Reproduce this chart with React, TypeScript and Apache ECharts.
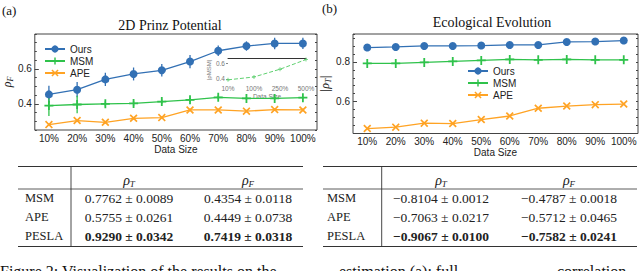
import React, { useEffect, useRef } from "react";
import * as echarts from "echarts";

// ---------- data ----------
const CATEGORIES = ["10%", "20%", "30%", "40%", "50%", "60%", "70%", "80%", "90%", "100%"];

const PRINZ_OURS = [0.454, 0.481, 0.54, 0.571, 0.592, 0.642, 0.704, 0.731, 0.746, 0.746];
const PRINZ_OURS_ERR = [0.05, 0.044, 0.038, 0.037, 0.036, 0.038, 0.03, 0.027, 0.033, 0.032];
const PRINZ_MSM = [0.39, 0.396, 0.4, 0.402, 0.413, 0.423, 0.437, 0.431, 0.431, 0.435];
const PRINZ_MSM_ERR = [0.06, 0.05, 0.015, 0.015, 0.012, 0.012, 0.01, 0.008, 0.008, 0.006];
const PRINZ_APE = [0.281, 0.304, 0.294, 0.317, 0.321, 0.365, 0.365, 0.358, 0.367, 0.365];
const PRINZ_APE_ERR = [0.008, 0.008, 0.008, 0.008, 0.008, 0.008, 0.008, 0.008, 0.008, 0.008];

const ECO_OURS = [0.872, 0.875, 0.88, 0.88, 0.882, 0.885, 0.885, 0.9, 0.902, 0.907];
const ECO_MSM = [0.792, 0.792, 0.797, 0.802, 0.807, 0.812, 0.81, 0.812, 0.81, 0.81];
const ECO_APE = [0.465, 0.472, 0.492, 0.49, 0.51, 0.528, 0.567, 0.578, 0.585, 0.588];

const INSET_CATEGORIES = ["10%", "100%", "250%", "500%"];
const INSET_MSM = [0.388, 0.425, 0.525, 0.65];

const PRINZ_Y_TICKS = [0.4, 0.6];
const ECO_Y_TICKS = [0.6, 0.8];
const INSET_Y_TICKS = [0.4, 0.6];

const TABLE_ROWS = ["MSM", "APE", "PESLA"];
const PRINZ_T = ["0.7762 ± 0.0089", "0.5755 ± 0.0261", "0.9290 ± 0.0342"];
const PRINZ_F = ["0.4354 ± 0.0118", "0.4449 ± 0.0738", "0.7419 ± 0.0318"];
const ECO_T = ["−0.8104 ± 0.0012", "−0.7063 ± 0.0217", "−0.9067 ± 0.0100"];
const ECO_F = ["−0.4787 ± 0.0018", "−0.5712 ± 0.0465", "−0.7582 ± 0.0241"];

// ---------- styles ----------
const BLUE = "#3270b4";
const GREEN = "#2fc24b";
const ORANGE = "#ffa324";
const SANS = "Liberation Sans, Arial, sans-serif";
const SERIF = "Liberation Serif, Times New Roman, serif";
const PLUS = "path://M4,0H6V4H10V6H6V10H4V6H0V4H4Z";
const XMARK = "path://M1.5,0L5,3.5L8.5,0L10,1.5L6.5,5L10,8.5L8.5,10L5,6.5L1.5,10L0,8.5L3.5,5L0,1.5Z";

const errorSeries = (name, values, errs, color, xi, yi) => ({
  type: "custom",
  name,
  xAxisIndex: xi,
  yAxisIndex: yi,
  encode: { x: 0, y: 1 },
  data: values.map((v, i) => [i, v, errs[i]]),
  z: 1,
  renderItem: (params, api) => {
    const x = api.value(0);
    const y = api.value(1);
    const e = api.value(2);
    const p1 = api.coord([x, y - e]);
    const p2 = api.coord([x, y + e]);
    return {
      type: "line",
      shape: { x1: p1[0], y1: p1[1], x2: p2[0], y2: p2[1] },
      style: { stroke: color, lineWidth: 1.3 },
    };
  },
});

const lineSeries = (name, data, color, symbol, size, xi, yi) => ({
  type: "line",
  name,
  data,
  xAxisIndex: xi,
  yAxisIndex: yi,
  symbol,
  symbolSize: size,
  showAllSymbol: true,
  color,
  itemStyle: { color },
  lineStyle: { color, width: 1.3 },
  z: 3,
});

const rich = {
  r: { fontFamily: SERIF, fontStyle: "italic", fontSize: 12, color: "#222" },
  s: { fontFamily: SERIF, fontStyle: "italic", fontSize: 8, color: "#222", padding: [6, 0, 0, 0] },
};

const minorAxis = (gridIndex, min, max, interval, position) => ({
  type: "value",
  gridIndex,
  min,
  max,
  interval,
  position,
  axisLine: { show: false },
  axisLabel: { show: false },
  splitLine: { show: false },
  axisTick: { show: true, inside: true, length: 2, lineStyle: { color: "#444" } },
});

const majorAxis = (gridIndex, min, max, ticks, name, nameGap) => ({
  type: "value",
  gridIndex,
  min,
  max,
  position: "left",
  axisLine: { show: false },
  splitLine: { show: false },
  axisTick: { show: true, inside: true, length: 4, customValues: ticks, lineStyle: { color: "#444" } },
  axisLabel: {
    customValues: ticks,
    formatter: (v) => v.toFixed(1),
    fontFamily: SANS,
    fontSize: 10,
    color: "#222",
    margin: 3,
  },
  name,
  nameLocation: "middle",
  nameGap,
  nameTextStyle: { rich },
});

const catAxis = (gridIndex, name) => ({
  type: "category",
  gridIndex,
  data: CATEGORIES,
  boundaryGap: true,
  axisLine: { show: false },
  axisTick: { show: false },
  axisLabel: { interval: 0, fontFamily: SANS, fontSize: 10, color: "#222", margin: 3 },
  name,
  nameLocation: "middle",
  nameGap: 14,
  nameTextStyle: { fontFamily: SANS, fontSize: 10, color: "#222" },
});

const tableGraphics = (x0, x1, xv, labelX, colT, colF, colTVals, colFVals) => {
  const els: any[] = [];
  const hl = (y, w) => ({ type: "line", shape: { x1: x0, y1: y, x2: x1, y2: y }, style: { stroke: "#333", lineWidth: w } });
  els.push(hl(166.5, 1.2), hl(189, 0.8), hl(246.5, 1.2));
  els.push({ type: "line", shape: { x1: xv, y1: 166.5, x2: xv, y2: 246.5 }, style: { stroke: "#333", lineWidth: 0.9 } });
  const hdrRich = {
    r: { fontFamily: SERIF, fontStyle: "italic", fontSize: 14, fill: "#222" },
    s: { fontFamily: SERIF, fontStyle: "italic", fontSize: 9, fill: "#222", padding: [7, 0, 0, 0] },
  };
  els.push({ type: "text", x: colT, y: 180, style: { text: "{r|ρ}{s|T}", rich: hdrRich, align: "center", verticalAlign: "middle" } });
  els.push({ type: "text", x: colF, y: 180, style: { text: "{r|ρ}{s|F}", rich: hdrRich, align: "center", verticalAlign: "middle" } });
  const ys = [198, 217, 236];
  TABLE_ROWS.forEach((r, i) => {
    const bold = i === TABLE_ROWS.length - 1;
    els.push({ type: "text", x: labelX, y: ys[i], style: { text: r, fontFamily: SERIF, fontSize: 12.5, fill: "#222", align: "left", verticalAlign: "middle" } });
    els.push({ type: "text", x: colT, y: ys[i], style: { text: colTVals[i], fontFamily: SERIF, fontSize: 13.5, fontWeight: bold ? "bold" : "normal", fill: "#222", align: "center", verticalAlign: "middle" } });
    els.push({ type: "text", x: colF, y: ys[i], style: { text: colFVals[i], fontFamily: SERIF, fontSize: 13.5, fontWeight: bold ? "bold" : "normal", fill: "#222", align: "center", verticalAlign: "middle" } });
  });
  return els;
};

export default function App() {
  const ref = useRef<HTMLDivElement>(null);
  useEffect(() => {
    const chart = echarts.init(ref.current, null, { renderer: "svg", width: 640, height: 271 });
    const option = {
      animation: false,
      backgroundColor: "#ffffff",
      textStyle: { fontFamily: SANS },
      grid: [
        { left: 32, top: 34, width: 285, height: 96, show: true, borderColor: "#444", borderWidth: 1, backgroundColor: "transparent" },
        { left: 353, top: 34, width: 285, height: 99.5, show: true, borderColor: "#444", borderWidth: 1, backgroundColor: "transparent" },
        { left: 228, top: 58, width: 78, height: 24, show: false },
      ],
      xAxis: [
        catAxis(0, "Data Size"),
        catAxis(1, "Data Size"),
        {
          type: "category",
          gridIndex: 2,
          data: INSET_CATEGORIES,
          boundaryGap: false,
          axisLine: { show: false },
          axisTick: { show: false },
          axisLabel: { interval: 0, fontFamily: SANS, fontSize: 6.5, color: "#777", margin: 3 },
          name: "Data Size",
          nameLocation: "middle",
          nameGap: 9,
          nameTextStyle: { fontFamily: SANS, fontSize: 6.5, color: "#777" },
        },
        {
          type: "category",
          gridIndex: 2,
          data: INSET_CATEGORIES,
          position: "top",
          boundaryGap: false,
          axisLine: { show: true, lineStyle: { color: "#333", width: 1 } },
          axisTick: { show: false },
          axisLabel: { show: false },
        },
      ],
      yAxis: [
        majorAxis(0, 0.25, 0.8, PRINZ_Y_TICKS, "{r|ρ}{s|F}", 18),
        minorAxis(0, 0.25, 0.8, 0.05, "left"),
        minorAxis(0, 0.25, 0.8, 0.05, "right"),
        majorAxis(1, 0.44, 0.94, ECO_Y_TICKS, "{r||ρ}{s|T}{r||}", 19),
        minorAxis(1, 0.44, 0.94, 0.04, "left"),
        minorAxis(1, 0.44, 0.94, 0.04, "right"),
        {
          type: "value",
          gridIndex: 2,
          min: 0.36,
          max: 0.67,
          axisLine: { show: false },
          splitLine: { show: false },
          axisTick: { show: true, inside: false, length: 2, customValues: INSET_Y_TICKS, lineStyle: { color: "#888" } },
          axisLabel: { customValues: INSET_Y_TICKS, formatter: (v) => v.toFixed(1), fontSize: 6.5, color: "#777", margin: 3 },
          name: "|ρMSM|",
          nameLocation: "middle",
          nameGap: 12,
          nameTextStyle: { fontSize: 6, color: "#777" },
        },
      ],
      legend: [
        {
          data: ["Ours", "MSM", "APE"],
          orient: "vertical",
          left: 39,
          top: 39,
          itemWidth: 20,
          itemHeight: 9,
          itemGap: 2,
          textStyle: { fontFamily: SANS, fontSize: 10, color: "#222" },
        },
        {
          data: ["Ours", "MSM", "APE"],
          orient: "vertical",
          left: 462,
          top: 61,
          itemWidth: 20,
          itemHeight: 9,
          itemGap: 2,
          textStyle: { fontFamily: SANS, fontSize: 10, color: "#222" },
        },
      ],
      series: [
        errorSeries("Ours-err", PRINZ_OURS, PRINZ_OURS_ERR, BLUE, 0, 0),
        errorSeries("MSM-err", PRINZ_MSM, PRINZ_MSM_ERR, GREEN, 0, 0),
        errorSeries("APE-err", PRINZ_APE, PRINZ_APE_ERR, ORANGE, 0, 0),
        lineSeries("Ours", PRINZ_OURS, BLUE, "circle", 8, 0, 0),
        lineSeries("MSM", PRINZ_MSM, GREEN, PLUS, 9, 0, 0),
        lineSeries("APE", PRINZ_APE, ORANGE, XMARK, 8, 0, 0),
        lineSeries("Ours", ECO_OURS, BLUE, "circle", 8, 1, 3),
        lineSeries("MSM", ECO_MSM, GREEN, PLUS, 9, 1, 3),
        lineSeries("APE", ECO_APE, ORANGE, XMARK, 8, 1, 3),
        {
          type: "line",
          name: "MSM-inset",
          data: INSET_MSM,
          xAxisIndex: 2,
          yAxisIndex: 6,
          symbol: PLUS,
          symbolSize: 4,
          itemStyle: { color: "#5fd070" },
          lineStyle: { color: "#5fd070", width: 1, type: "dashed" },
        },
      ],
      graphic: [
        { type: "text", x: 2, y: 10, style: { text: "(a)", fontFamily: SERIF, fontSize: 13, fill: "#111", align: "left", verticalAlign: "middle" } },
        { type: "text", x: 322, y: 8, style: { text: "(b)", fontFamily: SERIF, fontSize: 13, fill: "#111", align: "left", verticalAlign: "middle" } },
        { type: "text", x: 170, y: 25, style: { text: "2D Prinz Potential", fontFamily: SERIF, fontSize: 14, fill: "#111", align: "center", verticalAlign: "middle" } },
        { type: "text", x: 492, y: 22, style: { text: "Ecological Evolution", fontFamily: SERIF, fontSize: 14, fill: "#111", align: "center", verticalAlign: "middle" } },
        ...tableGraphics(18, 303, 71, 25, 129, 248, PRINZ_T, PRINZ_F),
        ...tableGraphics(323, 637, 381.7, 327, 441, 569, ECO_T, ECO_F),
        { type: "text", x: 0, y: 263, style: { text: "Figure 2: Visualization of the results on the", fontFamily: SERIF, fontSize: 16, fill: "#111", align: "left", verticalAlign: "top" } },
        { type: "text", x: 339, y: 263, style: { text: "estimation (a): full", fontFamily: SERIF, fontSize: 16, fill: "#111", align: "left", verticalAlign: "top" } },
        { type: "text", x: 557, y: 263, style: { text: "correlation", fontFamily: SERIF, fontSize: 16, fill: "#111", align: "left", verticalAlign: "top" } },
      ],
    };
    chart.setOption(option as any);
    return () => chart.dispose();
  }, []);
  return <div ref={ref} style={{ position: "fixed", left: 0, top: 0, width: 640, height: 271 }} />;
}
